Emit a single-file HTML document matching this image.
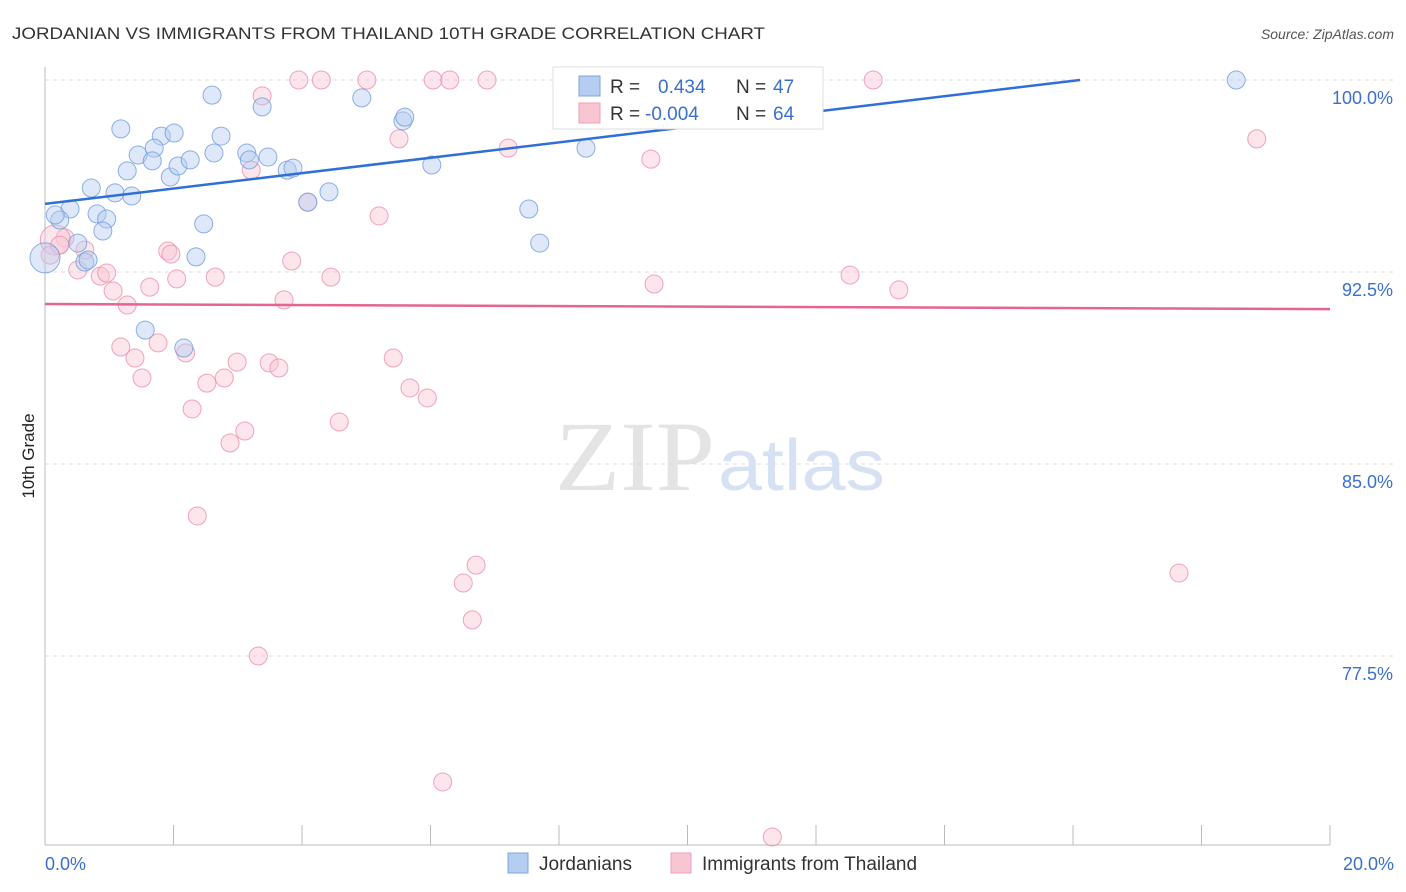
<!DOCTYPE html>
<html><head><meta charset="utf-8"><style>
body{margin:0;background:#fff;font-family:"Liberation Sans",sans-serif}
svg{display:block}
</style></head><body>
<svg id="chart" width="1406" height="892" viewBox="0 0 1406 892">
<text x="12" y="39" font-size="17" fill="#333" textLength="753" lengthAdjust="spacingAndGlyphs">JORDANIAN VS IMMIGRANTS FROM THAILAND 10TH GRADE CORRELATION CHART</text>
<text x="1394" y="39" font-size="14" fill="#555" font-style="italic" text-anchor="end">Source: ZipAtlas.com</text>
<text x="555" y="490" font-size="100" fill="#e4e4e4" font-family="Liberation Serif" textLength="160" lengthAdjust="spacingAndGlyphs">ZIP</text>
<text x="718" y="490" font-size="72" fill="#d6e2f3" textLength="167" lengthAdjust="spacingAndGlyphs">atlas</text>
<g id="grid"></g>
<g id="axes"></g>
<g id="pts"></g>
<g id="trend"></g>
<text transform="translate(34,456) rotate(-90)" font-size="17" fill="#222" text-anchor="middle">10th Grade</text>
<g>
<rect x="553" y="67" width="270" height="62" fill="#fff" stroke="#ddd"/>
<rect x="579" y="76" width="21" height="20" fill="#b5cdf0" stroke="#7da6e0"/>
<rect x="579" y="103" width="21" height="20" fill="#f8c5d3" stroke="#f0a0b8"/>
<text x="610" y="93" font-size="19" fill="#333">R =</text>
<text x="658" y="93" font-size="19" fill="#3a6fd0">0.434</text>
<text x="736" y="93" font-size="19" fill="#333">N =</text>
<text x="773" y="93" font-size="19" fill="#3a6fd0">47</text>
<text x="610" y="120" font-size="19" fill="#333">R =</text>
<text x="645" y="120" font-size="19" fill="#3a6fd0">-0.004</text>
<text x="736" y="120" font-size="19" fill="#333">N =</text>
<text x="773" y="120" font-size="19" fill="#3a6fd0">64</text>
</g>
<g>
<rect x="508" y="853" width="20" height="20" fill="#b5cdf0" stroke="#7da6e0"/>
<text x="539" y="870" font-size="19" fill="#333">Jordanians</text>
<rect x="671" y="853" width="20" height="20" fill="#f8c5d3" stroke="#f0a0b8"/>
<text x="702" y="870" font-size="19" fill="#333">Immigrants from Thailand</text>
</g>
<text x="45" y="870" font-size="18" fill="#3a6fd0">0.0%</text>
<text x="1394" y="870" font-size="18" fill="#3a6fd0" text-anchor="end">20.0%</text>
</svg>
<script>
const yTicks=[100,92.5,85,77.5];
const yTickLabels=["100.0%","92.5%","85.0%","77.5%"];
const xTicks=[0,2,4,6,8,10,12,14,16,18,20];
const jordX=[2.60,1.18,1.81,2.01,2.74,3.38,4.93,5.57,5.60,1.45,1.70,1.67,1.28,1.95,2.07,2.26,2.63,3.14,3.18,3.47,3.77,3.86,0.72,1.09,1.35,4.42,6.02,8.42,7.53,7.70,0.81,0.39,0.23,0.16,0.96,0.90,2.47,0.51,0.62,2.35,0.00,1.56,2.16,8.11,18.54,4.09,0.67];
const jordY=[99.41,98.09,97.81,97.93,97.81,98.95,99.30,98.40,98.55,97.07,97.34,96.84,96.45,96.21,96.64,96.88,97.15,97.15,96.88,96.99,96.48,96.56,95.78,95.59,95.47,95.63,96.68,97.34,94.96,93.63,94.77,94.96,94.53,94.73,94.57,94.10,94.38,93.63,92.89,93.09,93.05,90.23,89.53,100,100,95.23,92.97];
const thaiX=[3.95,4.30,5.01,6.04,6.30,6.88,12.89,3.38,5.51,7.21,9.43,3.21,18.86,4.09,5.20,0.31,0.16,0.62,1.91,1.96,3.84,0.51,0.86,0.96,4.45,2.05,2.65,1.63,1.06,9.48,12.53,13.29,3.72,1.28,1.18,1.76,2.19,1.40,5.42,2.99,3.49,3.64,1.51,2.52,2.79,5.68,5.95,2.29,4.58,3.11,2.88,2.37,6.71,6.51,17.65,6.65,3.32,6.19,11.32,0.23,0.08];
const thaiY=[100,100,100,100,100,100,100,99.38,97.70,97.34,96.91,96.48,97.70,95.23,94.69,93.83,93.75,93.36,93.32,93.2,92.93,92.58,92.34,92.46,92.30,92.23,92.30,91.91,91.76,92.03,92.38,91.80,91.41,91.21,89.57,89.73,89.34,89.14,89.14,88.98,88.95,88.75,88.36,88.16,88.36,87.97,87.58,87.15,86.64,86.29,85.82,82.97,81.05,80.35,80.74,78.91,77.50,72.58,70.43,93.55,93.16];
const bigJord=[40];const bigThai=[16];
const jordTrend=[[0,95.16],[16.11,100]];
const thaiTrend=[[0,91.25],[20,91.05]];
const NS="http://www.w3.org/2000/svg";
const X=v=>45+v*64.25, Y=v=>80+(100-v)*25.6;
function mk(t,a,p){const e=document.createElementNS(NS,t);for(const k in a)e.setAttribute(k,a[k]);p.appendChild(e);return e;}
const grid=document.getElementById('grid'),axes=document.getElementById('axes'),pts=document.getElementById('pts'),tr=document.getElementById('trend');
yTicks.forEach((v,i)=>{
 const l=mk('line',{x1:45,x2:1394,y1:Y(v),y2:Y(v),stroke:'#ddd','stroke-dasharray':'4,4'},grid);
 
 
 const t=mk('text',{x:1393,y:Y(v)+24,'font-size':18,fill:'#3a6fd0','text-anchor':'end'},grid);
 t.textContent=yTickLabels[i];
 
 
});
const ax=mk('line',{x1:45,x2:45,y1:67,y2:845,stroke:'#bbb'},axes);


const bx=mk('line',{x1:45,x2:1330,y1:845,y2:845,stroke:'#bbb'},axes);


xTicks.forEach(v=>{const l=mk('line',{x1:X(v),x2:X(v),y1:825,y2:845,stroke:'#bbb'},axes);
 
 });
function dots(xs,ys,big,fill,stroke,name){xs.forEach((x,i)=>{
 const c=mk('circle',{cx:X(x),cy:Y(ys[i]),r:big.includes(i)?15:9,fill:fill,'fill-opacity':0.45,stroke:stroke,'stroke-opacity':0.8,'stroke-width':1},pts);
 
 });}
dots(thaiX,thaiY,bigThai,'#f8c5d3','#ec8fac','thailand-point');
dots(jordX,jordY,bigJord,'#b5cdf0','#6f9ee0','jordanian-point');
const l1=mk('line',{x1:X(jordTrend[0][0]),y1:Y(jordTrend[0][1]),x2:X(jordTrend[1][0]),y2:Y(jordTrend[1][1]),stroke:'#2f6fd6','stroke-width':2.5},tr);


const l2=mk('line',{x1:X(thaiTrend[0][0]),y1:Y(thaiTrend[0][1]),x2:X(thaiTrend[1][0]),y2:Y(thaiTrend[1][1]),stroke:'#e4668e','stroke-width':2.5},tr);


</script>
</body></html>
